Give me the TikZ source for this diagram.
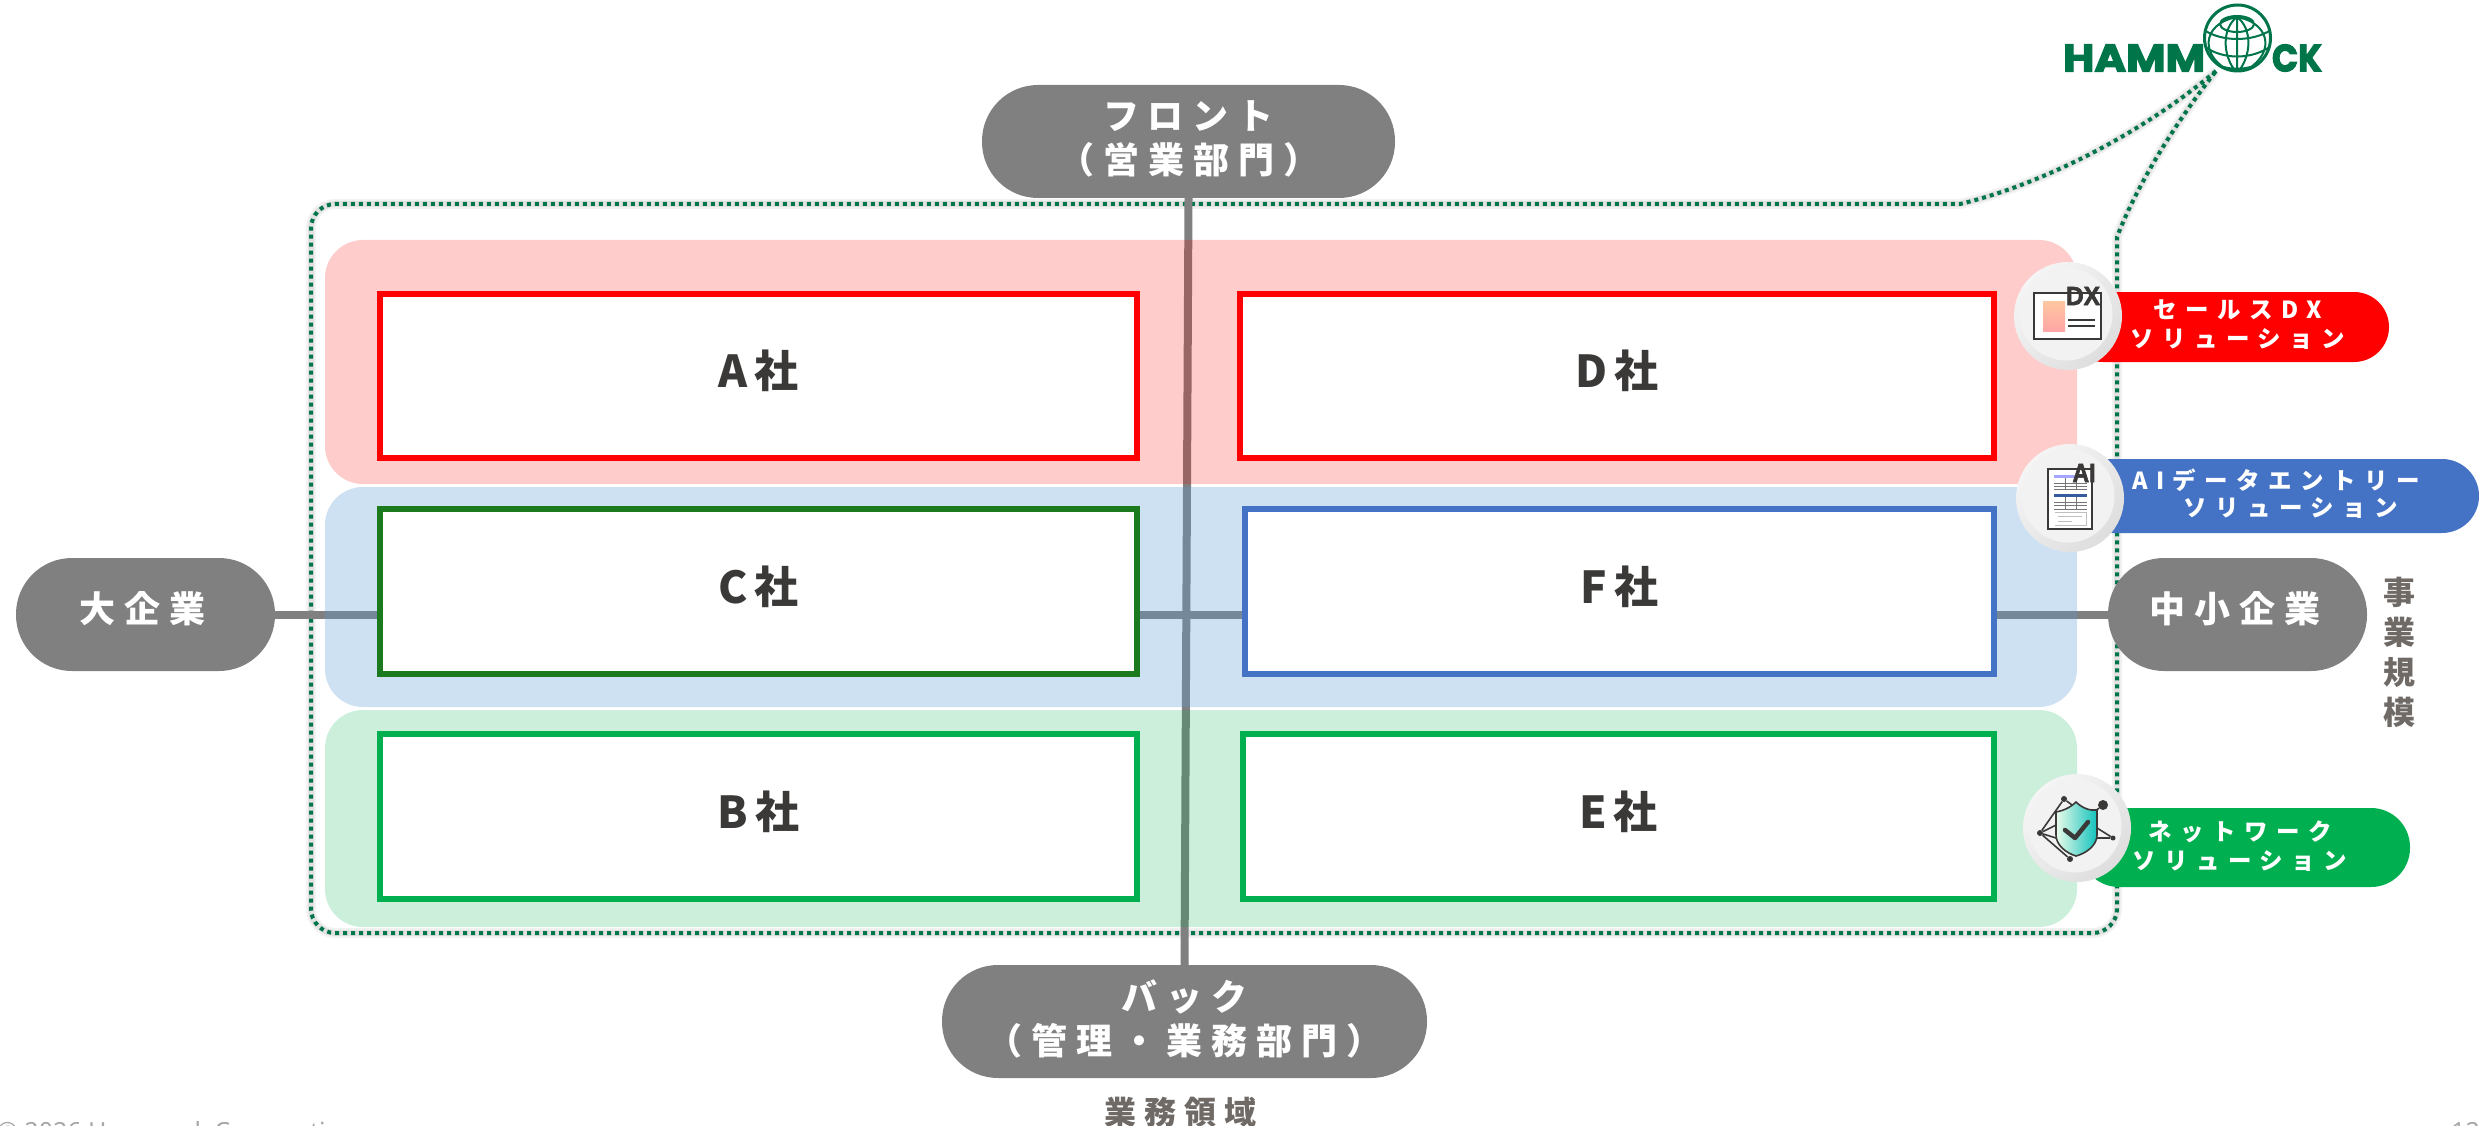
\documentclass[tikz,border=0pt]{standalone}
\usepackage{fontspec}
\usetikzlibrary{backgrounds}
\setmainfont{Noto Sans}
\newfontfamily\jpw[LetterSpace=25]{Noto Sans CJK JP}
\newfontfamily\jpn[LetterSpace=36]{Noto Sans CJK JP}
\newfontfamily\jpb[LetterSpace=16]{Noto Sans CJK JP}
\newfontfamily\logofont[BoldFeatures={FakeBold=3}]{Poppins}
\newfontfamily\iconfont[BoldFeatures={FakeBold=2.5}]{Liberation Sans}
\newcommand{\liftbox}[1]{\raisebox{14pt}{#1}\hspace{11pt}}
\newcommand{\liftone}[1]{\raisebox{16pt}{#1}\hspace{6pt}}
\newcommand{\lifttwo}[1]{\raisebox{8pt}{#1}\hspace{6pt}}
\definecolor{hgreen}{HTML}{00754A}
\definecolor{pillgray}{HTML}{808080}
\definecolor{capgray}{HTML}{6F6A66}
\definecolor{inkdark}{HTML}{3B3838}
\definecolor{cgreen}{HTML}{1B7A1E}
\definecolor{sblue}{HTML}{4472C4}
\definecolor{sgreen}{HTML}{00B050}
\definecolor{bandblue}{HTML}{5B9BD5}
\definecolor{foot}{HTML}{A6A6A6}
\definecolor{shieldl}{HTML}{EAFBEA}
\definecolor{shieldr}{HTML}{12C2BC}
\pgfdeclarelayer{under}
\pgfsetlayers{under,main}
\tikzset{
  x=1pt,y=-1pt,
  companybox/.style={draw=#1,line width=6pt,fill=white,inner sep=0pt,outer sep=0pt,
    font=\jpb\bfseries\fontsize{44}{48}\selectfont,text=inkdark},
  graypill/.style={fill=pillgray,rounded corners=56pt,inner sep=0pt,outer sep=0pt,
    minimum height=113pt,text=white,align=center,
    font=\jpw\bfseries\fontsize{36}{44}\selectfont},
  solpill/.style={fill=#1,inner sep=0pt,outer sep=0pt},
  sollabel/.style={text=white,align=center,inner sep=0pt,
    font=\jpn\bfseries\fontsize{23.5}{29}\selectfont},
  caption/.style={text=capgray,align=center,inner sep=0pt,
    font=\jpw\bfseries\fontsize{32}{40}\selectfont},
  linkline/.style={draw=pillgray,line width=8pt},
  dotline/.style={draw=hgreen,line width=4pt,dash pattern=on 4pt off 4pt},
  band/.style={fill=#1,rounded corners=38pt},
  discouter/.style={circle,minimum size=108pt,inner sep=0pt,left color=white!96!black,right color=white!87!black,shading angle=45},
  discinner/.style={circle,minimum size=93pt,inner sep=0pt,fill=white!95!black},
  dark/.style={draw=inkdark,line width=1.6pt},
  hub/.style={circle,fill=inkdark,inner sep=0pt},
}
\begin{document}
\begin{tikzpicture}
\useasboundingbox (0,0) rectangle (2479,1126);
% company boxes
\node[companybox=red,minimum width=757pt,minimum height=164pt] (A) at (758.5,376) {\liftbox{A社}};
\node[companybox=red,minimum width=754pt,minimum height=164pt] (D) at (1617,376) {\liftbox{D社}};
\node[companybox=cgreen,minimum width=757pt,minimum height=165pt] (C) at (758.5,591.5) {\liftbox{C社}};
\node[companybox=sblue,minimum width=749pt,minimum height=165pt] (F) at (1619.5,591.5) {\liftbox{F社}};
\node[companybox=sgreen,minimum width=757pt,minimum height=165pt] (B) at (758.5,816.5) {\liftbox{B社}};
\node[companybox=sgreen,minimum width=751pt,minimum height=165pt] (E) at (1618.5,816.5) {\liftbox{E社}};
% axis pills
\node[graypill,minimum width=413pt] (front) at (1188.5,141.5) {\lifttwo{フロント}\\\lifttwo{（営業部門）}};
\node[graypill,minimum width=485pt] (back) at (1184.5,1021.5) {\lifttwo{バック}\\\lifttwo{（管理・業務部門）}};
\node[graypill,minimum width=259pt] (large) at (145.5,614.5) {\liftone{大企業}};
\node[graypill,minimum width=259pt] (small) at (2237.5,614.5) {\liftone{中小企業}};
\node[caption] (cap1) at (1180,1112) {業務領域};
\node[caption] (cap2) at (2399,652) {事\\業\\規\\模};
% logo
\node[inner sep=0pt,text=hgreen] (logoL) at (2134,58) {\resizebox{142pt}{27pt}{\logofont\bfseries HAMM}};
\node[inner sep=0pt,text=hgreen] (logoR) at (2297,58) {\resizebox{50pt}{27pt}{\logofont\bfseries CK}};
\node[circle,fill=white,draw=hgreen,line width=3pt,minimum size=66pt,inner sep=0pt] (globe) at (2237.5,38) {};
\begin{scope}
\clip (2237.5,38) circle[radius=33pt];
\draw[hgreen,line width=2pt]
  (2237,17) -- (2237,72)
  (2237,17) .. controls (2222,28) and (2222,55) .. (2236,72)
  (2237,17) .. controls (2252,28) and (2252,55) .. (2238,72)
  (2237,17) .. controls (2200,24) and (2200,58) .. (2232,72)
  (2237,17) .. controls (2274,24) and (2274,58) .. (2242,72)
  (2204,30) .. controls (2222,42) and (2252,42) .. (2271,30)
  (2204,46) .. controls (2222,60) and (2252,60) .. (2271,46)
  (2212,62) .. controls (2226,71) and (2248,71) .. (2262,62)
  (2237,24) ellipse[x radius=17pt,y radius=8pt];
\end{scope}
\coordinate (logoTip) at (2216,71);
% solution pills
\node[solpill=red,rounded corners=35pt,minimum width=321pt,minimum height=70pt] (redpill) at (2228.5,327) {};
\node[solpill=sblue,rounded corners=37pt,minimum width=404pt,minimum height=74pt] (bluepill) at (2277,496) {};
\node[solpill=sgreen,rounded corners=39pt,minimum width=330pt,minimum height=79pt] (greenpill) at (2245,847.5) {};
\node[sollabel] (redtext) at (2238,325) {セールスDX\\ソリューション};
\node[sollabel] (bluetext1) at (2276,480) {AIデータエントリー};
\node[sollabel] (bluetext2) at (2291,508) {ソリューション};
\node[sollabel] (greentext) at (2240,846.5) {ネットワーク\\ソリューション};
% discs
\node[discouter] (dxdisc) at (2068,316) {};
\node[discinner] at (2066,314) {};
\node[discouter] (aidisc) at (2070,498) {};
\node[discinner] at (2068,496) {};
\node[discouter] (netdisc) at (2077,828) {};
\node[discinner] at (2075,826) {};
% DX icon
\draw[inkdark,line width=1.6pt,fill=white] (2034,293) rectangle (2101,339);
\shade[top color=white!90!red!70!orange,bottom color=red!35!white] (2043,301) rectangle (2065,331);
\draw[inkdark,line width=1.6pt] (2068,320) -- (2095,320) (2068,326) -- (2095,326);
\node[inner sep=0pt,text=inkdark] (dxlabel) at (2083,296) {\resizebox{34pt}{18pt}{\iconfont\bfseries DX}};
% AI icon
\draw[inkdark,line width=1.6pt,fill=white] (2048,469) rectangle (2092,529);
\fill[blue!35!white] (2054,475) rectangle (2087,478);
\fill[sblue!80!black] (2054,494) rectangle (2087,497);
\draw[inkdark!70!white,line width=.8pt] (2054,483) -- (2087,483) (2054,486) -- (2087,486) (2054,489) -- (2087,489)
  (2054,502) -- (2087,502) (2054,505) -- (2087,505) (2054,509) -- (2087,509)
  (2065,478) -- (2065,490) (2076,478) -- (2076,490) (2065,497) -- (2065,510) (2076,497) -- (2076,510);
\draw[gray!50!white,line width=.8pt] (2055,512) -- (2086,512) -- (2086,525) -- (2055,525)
  (2058,516) -- (2082,516) (2058,521) -- (2072,521);
\node[inner sep=0pt,text=inkdark] (ailabel) at (2084,473) {\resizebox{23pt}{18pt}{\iconfont\bfseries AI}};
% network icon
\node[hub,minimum size=6pt] (n1) at (2064,799) {};
\node[hub,minimum size=10pt] (n2) at (2103,805) {};
\node[hub,minimum size=6pt] (n3) at (2040,833) {};
\node[hub,minimum size=6pt] (n4) at (2070,859) {};
\node[hub,minimum size=5pt] (n5) at (2113,838) {};
\coordinate (s1) at (2056,825);
\coordinate (s2) at (2056,838);
\coordinate (s3) at (2076,808);
\coordinate (s4) at (2097,828);
\coordinate (s5) at (2097,838);
\draw[dark] (n3) -- (n1) (n3) -- (s1) (n3) -- (s2) (n3) -- (n4) (n1) -- (s3) (n2) -- (2094,812) (s4) -- (n5) (s5) -- (n5);
\shade[left color=shieldl,right color=shieldr,draw=inkdark,line width=1.6pt]
  (2076,802) .. controls (2070,808) and (2062,811) .. (2056,812) -- (2056,835)
  .. controls (2056,845) and (2066,853) .. (2076,856)
  .. controls (2087,853) and (2097,845) .. (2097,835) -- (2097,810)
  .. controls (2090,811) and (2082,808) .. (2076,802) -- cycle;
\draw[inkdark,line width=4.5pt,line cap=round,line join=round] (2065,830) -- (2075,838) -- (2088,822);
% footer
\node[anchor=base west,inner sep=0pt,text=foot,font=\fontsize{25}{30}\selectfont] (copy) at (-3,1140) {© 2026 Hammock Corporation};
\node[anchor=base west,inner sep=0pt,text=foot,font=\fontsize{25}{30}\selectfont] (page) at (2451,1140) {12};
% under layer
\begin{pgfonlayer}{under}
\foreach \w/\o in {10pt/.05,6pt/.07}{
\draw[draw=black,line width=\w,opacity=\o,line join=round]
  (logoTip) .. controls (2140,135) and (2040,185) .. (1960,204) -- (335,204)
  .. controls (322,204) and (311,215) .. (311,228) -- (311,909)
  .. controls (311,922) and (322,933) .. (335,933) -- (2093,933)
  .. controls (2106,933) and (2117,922) .. (2117,909) -- (2117,237)
  .. controls (2135,190) and (2170,130) .. (logoTip);
}
\draw[dotline]
  (logoTip) .. controls (2140,135) and (2040,185) .. (1960,204) -- (335,204)
  .. controls (322,204) and (311,215) .. (311,228) -- (311,909)
  .. controls (311,922) and (322,933) .. (335,933) -- (2093,933)
  .. controls (2106,933) and (2117,922) .. (2117,909) -- (2117,237)
  .. controls (2135,190) and (2170,130) .. (logoTip);
\draw[linkline] (front.south) -- (back.north);
\draw[linkline] (large.east) -- (large.east -| C.west);
\draw[linkline] (large.east -| C.east) -- (large.east -| F.west);
\draw[linkline] (small.west -| F.east) -- (small.west);
\fill[band=red,opacity=.2] (325,240) rectangle (2077,484);
\fill[band=bandblue,opacity=.3] (325,487) rectangle (2077,707);
\fill[band=sgreen,opacity=.2] (325,710) rectangle (2077,927);
\end{pgfonlayer}
\end{tikzpicture}
\end{document}
